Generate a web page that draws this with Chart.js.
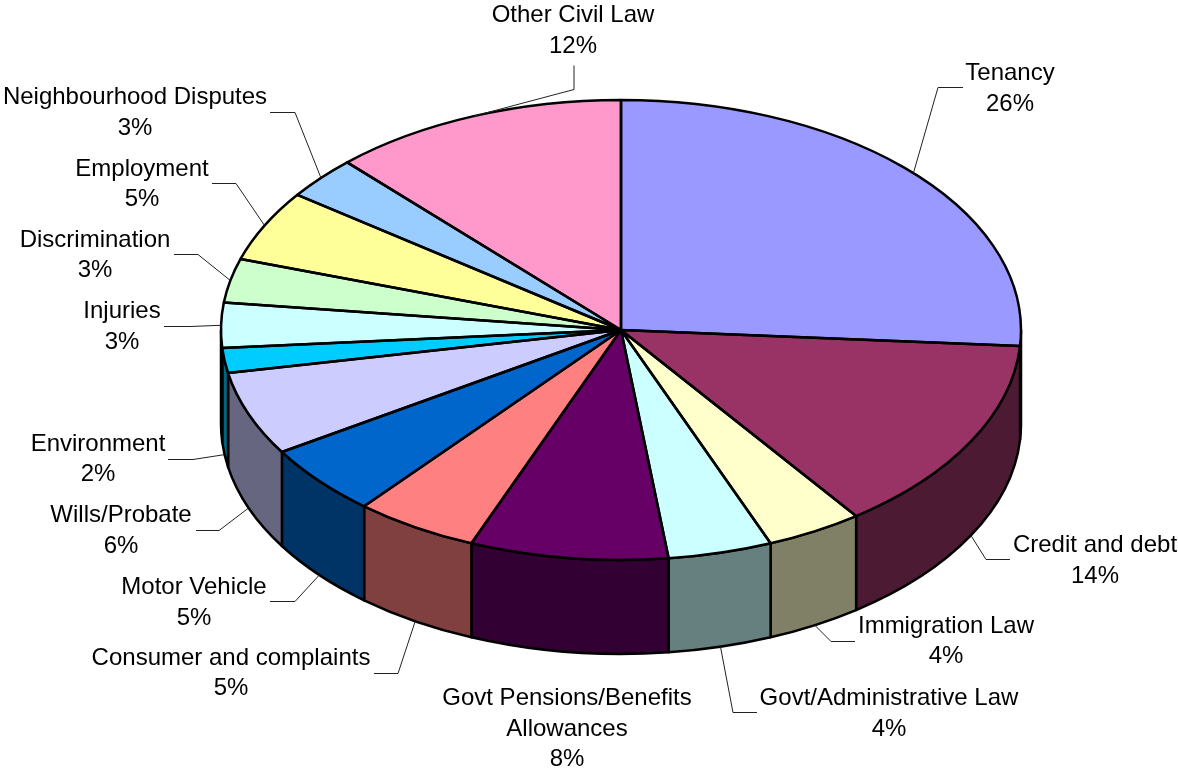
<!DOCTYPE html>
<html>
<head>
<meta charset="utf-8">
<style>html,body{margin:0;padding:0;background:#fff}canvas{display:block}</style>
<script src="https://cdn.jsdelivr.net/npm/chart.js@4"></script>
</head>
<body>
<canvas id="c" width="1178" height="769"></canvas>
<script>
const categories = ["Tenancy","Credit and debt","Immigration Law","Govt/Administrative Law","Govt Pensions/Benefits\nAllowances","Consumer and complaints","Motor Vehicle","Wills/Probate","Environment","Injuries","Discrimination","Employment","Neighbourhood Disputes","Other Civil Law"];
const shares = [26.1,13.9,3.9,4.2,8.0,5.0,5.0,5.9,1.75,3.15,3.1,5.0,3.0,12.0];
const topColors = ["#9999FF","#993366","#FFFFCC","#CCFFFF","#660066","#FF8080","#0066CC","#CCCCFF","#00CCFF","#CCFFFF","#CCFFCC","#FFFF99","#99CCFF","#FF99CC"];
const sideColors = ["#4D4D80","#4D1A33","#808066","#668080","#330033","#804040","#003366","#666680","#006680","#668080","#668066","#80804D","#4D6680","#804D66"];

// Layout of the annotation text and leader elbows (not data)
const labelCentres = [[1010,73.5],[1095,545.5],[946,626],[889,698.5],[567,698.5],[231,658],[194,587.5],[121,515.5],[98,444],[122,311.5],[95,240],[142,169],[135,97.5],[573,15.5]];
const leaderStarts = [[963,87],[1010,559],[855,641],[757,712],null,[374,673],[270,601],[196,530],[168,459],[164,326],[174,254],[212,183],[270,112],[574,65]];
const leaderElbows = [[938,87],[986,559],[831,641],[733,712],null,[398,673],[295,601],[219,530],[193,459],[190,326],[198,254],[236,183],[295,112],[574,89]];
const lineStep = 30.5, fontPx = 24;
const CX = 621, CY = 330, RX = 400, RY = 230, DEPTH = 94;

const tilt = {
  id: 'tilt',
  beforeDatasetsDraw(chart) {
    const ctx = chart.ctx, arcs = chart.getDatasetMeta(0).data;
    const k = RY / arcs[0].outerRadius;
    ctx.save();
    ctx.lineWidth = 2.5; ctx.strokeStyle = '#000'; ctx.lineJoin = 'round';
    arcs.forEach((arc, i) => {
      const a = Math.max(arc.startAngle, 0), b = Math.min(arc.endAngle, Math.PI);
      if (b <= a) return;
      ctx.beginPath();
      ctx.ellipse(arc.x, arc.y, arc.outerRadius, arc.outerRadius * k, 0, a, b);
      ctx.ellipse(arc.x, arc.y + DEPTH, arc.outerRadius, arc.outerRadius * k, 0, b, a, true);
      ctx.closePath();
      ctx.fillStyle = sideColors[i];
      ctx.fill(); ctx.stroke();
    });
    ctx.restore();
  },
  beforeDatasetDraw(chart) {
    const ctx = chart.ctx, arc = chart.getDatasetMeta(0).data[0];
    ctx.save();
    ctx.translate(arc.x, arc.y);
    ctx.scale(1, RY / arc.outerRadius);
    ctx.translate(-arc.x, -arc.y);
  },
  afterDatasetDraw(chart) { chart.ctx.restore(); },
  afterDatasetsDraw(chart) {
    const ctx = chart.ctx, arcs = chart.getDatasetMeta(0).data;
    const k = RY / arcs[0].outerRadius;
    ctx.save();
    // slice outlines on the tilted top face
    ctx.strokeStyle = '#000'; ctx.lineWidth = 2.5; ctx.lineJoin = 'round';
    arcs.forEach(arc => {
      const r = arc.outerRadius;
      ctx.beginPath();
      ctx.moveTo(arc.x, arc.y);
      ctx.ellipse(arc.x, arc.y, r, r * k, 0, arc.startAngle, arc.endAngle);
      ctx.closePath();
      ctx.stroke();
    });
    // leader lines, ending on the rim at each slice's middle angle
    ctx.lineWidth = 1; ctx.strokeStyle = '#222';
    arcs.forEach((arc, i) => {
      if (!leaderStarts[i]) return;
      const mid = (arc.startAngle + arc.endAngle) / 2, r = arc.outerRadius;
      const front = Math.sin(mid) > 0.05;
      const px = arc.x + r * Math.cos(mid);
      const py = arc.y + r * k * Math.sin(mid) + (front ? DEPTH : 0);
      ctx.beginPath();
      ctx.moveTo(leaderStarts[i][0], leaderStarts[i][1] + 0.5);
      ctx.lineTo(leaderElbows[i][0], leaderElbows[i][1] + 0.5);
      ctx.lineTo(px, py);
      ctx.stroke();
    });
    // data labels
    ctx.fillStyle = '#000';
    ctx.font = fontPx + 'px "Liberation Sans", Arial, sans-serif';
    ctx.textAlign = 'center'; ctx.textBaseline = 'middle';
    categories.forEach((name, i) => {
      const lines = name.split('\n').concat(Math.round(shares[i]) + '%');
      lines.forEach((t, j) => ctx.fillText(t, labelCentres[i][0], labelCentres[i][1] + j * lineStep));
    });
    ctx.restore();
  }
};

new Chart(document.getElementById('c'), {
  type: 'pie',
  data: {
    labels: categories.map(s => s.replace('\n', ' ')),
    datasets: [{ data: shares, backgroundColor: topColors, borderWidth: 0, clip: false }]
  },
  options: {
    responsive: false,
    animation: false,
    events: [],
    radius: RX,
    layout: { padding: { left: 2 * CX - 1178, top: 0, right: 0, bottom: 769 - 2 * CY } },
    plugins: { legend: { display: false }, tooltip: { enabled: false }, title: { display: false } }
  },
  plugins: [tilt]
});
</script>
</body>
</html>
